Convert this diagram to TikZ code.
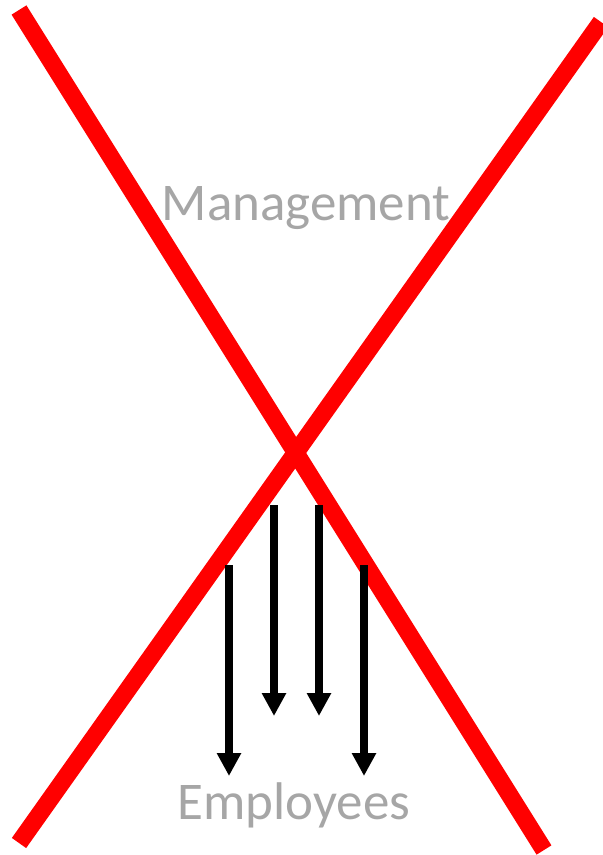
\documentclass[tikz,border=0pt]{standalone}
\usepackage{fontspec}
\setmainfont{Carlito}
\usetikzlibrary{arrows.meta}
\definecolor{cred}{HTML}{FF0000}
\definecolor{cgrey}{HTML}{A6A6A6}
\tikzset{
  every picture/.style={x=1pt, y=-1pt},
  cross/.style={draw=cred, line width=17.5pt, line cap=butt},
  arrow/.style={-{Triangle[length=23pt, width=23pt]}, draw=black, line width=8pt},
  label/.style={text=cgrey, font=\fontsize{53}{60}\selectfont, anchor=base, inner sep=0pt},
}
\begin{document}
\begin{tikzpicture}
  \useasboundingbox (0,0) rectangle (603,855);
  % the big red cross
  \coordinate (tl) at (19,10);
  \coordinate (br) at (544,850);
  \coordinate (bl) at (19,843);
  \coordinate (tr) at (601,22);
  \draw[cross] (tl) -- (br);
  \draw[cross] (bl) -- (tr);
  \node[label] (mgmt) at (306,220) {Management};
  \node[label] (empl) at (294,819) {Employees};
  % downward arrows
  \foreach \x/\top/\tip [count=\i] in {229/565/776, 274/505/716, 319/505/716, 364/565/776} {
    \coordinate (s\i) at (\x,\top);
    \coordinate (e\i) at (\x,\tip);
    \draw[arrow] (s\i) -- (e\i);
  }
\end{tikzpicture}
\end{document}
